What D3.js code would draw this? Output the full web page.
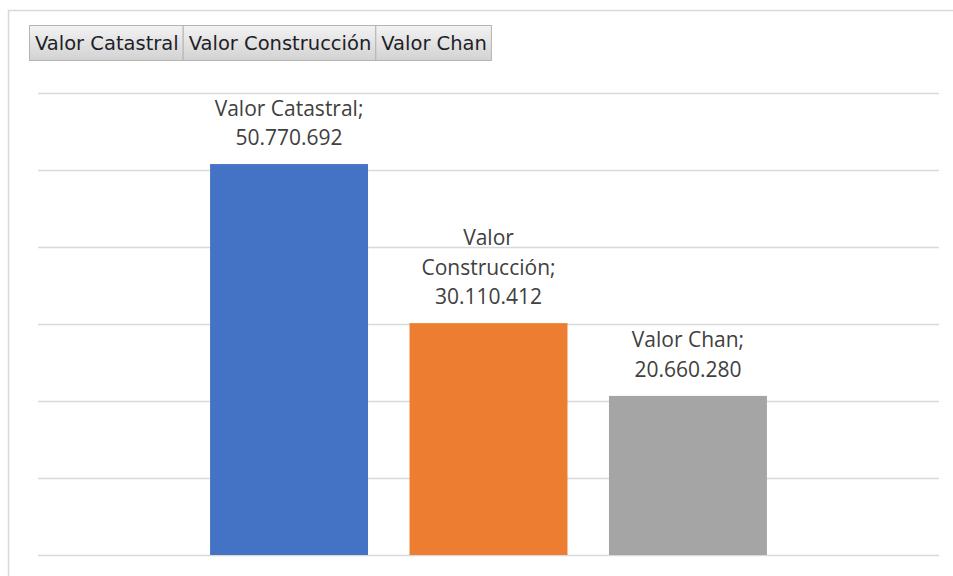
<!DOCTYPE html>
<html>
<head>
<meta charset="utf-8">
<script src="https://cdn.jsdelivr.net/npm/d3@7"></script>
<style>
  html, body { margin: 0; padding: 0; background: #fff; }
</style>
</head>
<body>
<svg id="canvas"></svg>
<script>
const series = ["Valor Catastral", "Valor Construcción", "Valor Chan"]
const values = [50770692, 30110412, 20660280]
const colors = ["#4472c4", "#ed7d31", "#a5a5a5"]
const yTicks = [0, 10000000, 20000000, 30000000, 40000000, 50000000, 60000000]

const width = 953, height = 576
const svg = d3.select("#canvas").attr("width", width).attr("height", height)

const loc = d3.formatLocale({ decimal: ",", thousands: ".", grouping: [3], currency: ["", "€"] })
const fmt = loc.format(",d")

// chart frame (cut off at the right and bottom)
svg.append("path")
  .attr("d", `M8.5,${height} V10.5 H${width}`)
  .attr("fill", "none").attr("stroke", "#d9d9d9").attr("stroke-width", 1.5)

// field buttons
const defs = svg.append("defs")
const grad = defs.append("linearGradient").attr("id", "btn").attr("x1", 0).attr("y1", 0).attr("x2", 0).attr("y2", 1)
grad.append("stop").attr("offset", "0%").attr("stop-color", "#f3f3f3")
grad.append("stop").attr("offset", "100%").attr("stop-color", "#d2d2d2")

const btnG = svg.append("g").attr("transform", "translate(29,25)")
let bx = 0
series.forEach(function(s) {
  const g = btnG.append("g").attr("transform", `translate(${bx},0)`)
  const t = g.append("text")
    .attr("x", 6).attr("y", 25)
    .attr("font-family", "DejaVu Sans")
    .attr("font-size", 19.5)
    .attr("fill", "#1e1e28")
    .text(s)
  const w = t.node().getComputedTextLength() + 10
  g.insert("rect", "text")
    .attr("x", 0.5).attr("y", 0.5).attr("width", w).attr("height", 35)
    .attr("fill", "url(#btn)").attr("stroke", "#b4b4b4")
  bx += w
})

// plot
const x0 = d3.scaleBand().domain(["Total"]).range([38, 939]).paddingInner(0).paddingOuter(0.309)
const x1 = d3.scaleBand().domain(series).range([0, x0.bandwidth()]).paddingInner(0.208)
const y = d3.scaleLinear().domain([0, 60000000]).range([555, 93])

svg.append("g")
  .attr("transform", "translate(38,0)")
  .call(d3.axisLeft(y).tickValues(yTicks).tickSize(-901).tickFormat(""))
  .call(g => g.select(".domain").remove())
  .call(g => g.selectAll(".tick line").attr("stroke", "#d9d9d9").attr("stroke-width", 1.5))

const bars = svg.append("g").attr("transform", `translate(${x0("Total")},0)`)
bars.selectAll("rect")
  .data(series)
  .enter().append("rect")
  .attr("x", d => x1(d))
  .attr("width", x1.bandwidth())
  .attr("y", (d, i) => y(values[i]))
  .attr("height", (d, i) => y(0) - y(values[i]))
  .attr("fill", (d, i) => colors[i])

// data labels, wrapped like Excel does
const lineH = 29.5
series.forEach(function(s, i) {
  const cx = x0("Total") + x1(s) + x1.bandwidth() / 2
  const t = svg.append("text")
    .attr("text-anchor", "middle")
    .attr("font-family", "Open Sans")
    .attr("font-size", 21)
    .attr("fill", "#404040")
  const words = (s + ";").split(" ")
  const lines = []
  let cur = ""
  words.forEach(function(w) {
    const test = cur ? cur + " " + w : w
    t.text(test)
    if (cur && t.node().getComputedTextLength() > 175) { lines.push(cur); cur = w }
    else cur = test
  })
  lines.push(cur)
  lines.push(fmt(values[i]))
  t.text(null)
  const base = y(values[i]) - 19 - (lines.length - 1) * lineH
  lines.forEach(function(l, j) {
    t.append("tspan").attr("x", cx).attr("y", base + j * lineH).text(l)
  })
})
</script>
</body>
</html>
